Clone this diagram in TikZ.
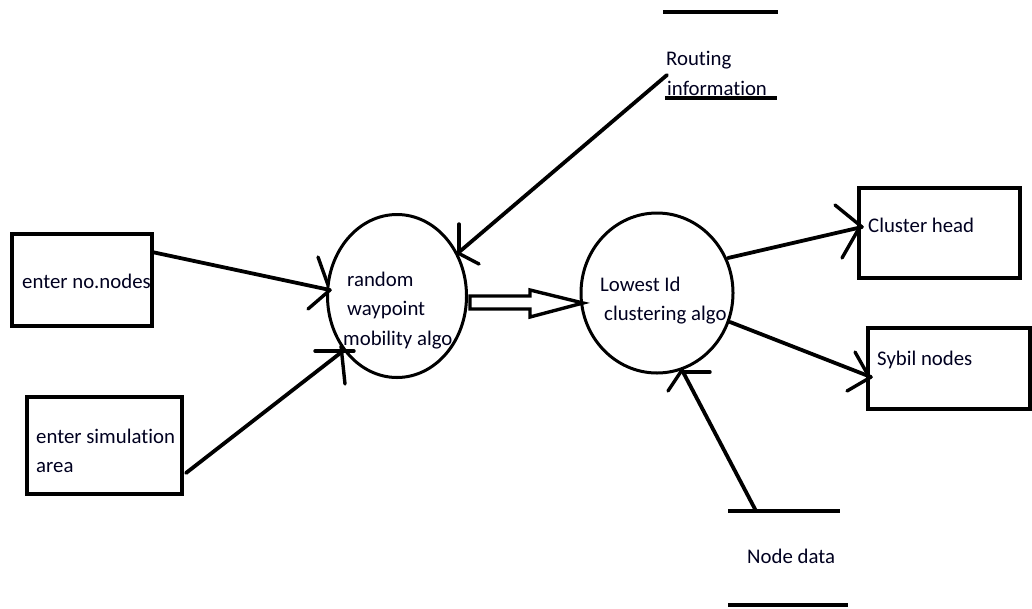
\documentclass[tikz,border=0pt]{standalone}
\usepackage{fontspec}
\setmainfont{Carlito}[Ligatures={NoCommon,NoDiscretionary}]
\tikzset{
  boxshape/.style={draw, line width=3.8pt, rectangle, inner sep=0pt},
  procshape/.style={draw, line width=3pt, ellipse, inner sep=0pt},
  lbl/.style={anchor=base west, inner sep=0pt, font=\fontsize{20.8}{29}\selectfont, text=black!88!blue},
  conn/.style={line width=3.8pt, line cap=round},
  barb/.style={line width=3.4pt, line cap=round},
  storeline/.style={line width=4pt},
}
\usetikzlibrary{shapes.geometric}
\begin{document}
\begin{tikzpicture}[x=1pt,y=-1pt]
\useasboundingbox (0,0) rectangle (1032,608);

% input boxes
\node[boxshape, minimum width=140pt, minimum height=92pt] (nodesbox) at (82,280) {};
\node[boxshape, minimum width=155pt, minimum height=97pt] (areabox) at (104.5,445.5) {};
% output boxes
\node[boxshape, minimum width=161pt, minimum height=90pt] (headbox) at (939.5,233) {};
\node[boxshape, minimum width=162pt, minimum height=81pt] (sybilbox) at (949,368.5) {};

% processes
\node[procshape, minimum width=139pt, minimum height=163pt] (rwp) at (397,296) {};
\node[procshape, minimum width=152pt, minimum height=160pt] (lid) at (657,293) {};

% labels
\node[lbl] (t-nodes) at (22,288) {enter no.nodes};
\node[lbl] (t-area1) at (36,443) {enter simulation};
\node[lbl] (t-area2) at (36,472) {area};
\node[lbl] (t-rwp1) at (347,286) {random};
\node[lbl] (t-rwp2) at (347,315) {waypoint};
\node[lbl] (t-rwp3) at (343,345) {mobility algo};
\node[lbl] (t-lid1) at (600,291) {Lowest Id};
\node[lbl] (t-lid2) at (604,320) {clustering algo};
\node[lbl] (t-head) at (868,232) {Cluster head};
\node[lbl] (t-sybil) at (877,365) {Sybil nodes};
\node[lbl] (t-rout1) at (666,65) {Routing};
\node[lbl] (t-rout2) at (667,95) {information};
\node[lbl] (t-ndata) at (747,563) {Node data};

% data stores
\coordinate (rs-a) at (663,12);  \coordinate (rs-b) at (778,12);
\coordinate (rs-c) at (665,98);  \coordinate (rs-d) at (777,98);
\coordinate (nd-a) at (728,511); \coordinate (nd-b) at (840,511);
\coordinate (nd-c) at (728,605); \coordinate (nd-d) at (848,605);
\draw[storeline] (rs-a) -- (rs-b);
\draw[storeline] (rs-c) -- (rs-d);
\draw[storeline] (nd-a) -- (nd-b);
\draw[storeline] (nd-c) -- (nd-d);

% connector ends
\coordinate (s1) at (152,252);  \coordinate (e1) at (330,290);
\coordinate (s2) at (186,473);  \coordinate (e2) at (343,351);
\coordinate (s3) at (667,75);   \coordinate (e3) at (458,253);
\coordinate (s4) at (728,258);  \coordinate (e4) at (862,227);
\coordinate (s5) at (730,322);  \coordinate (e5) at (871,377);
\coordinate (s6) at (756,511);  \coordinate (e6) at (682,370);

% connectors
\draw[conn] (s1) -- (e1);
\draw[conn] (s2) -- (e2);
\draw[conn] (s3) -- (e3);
\draw[conn] (s4) -- (e4);
\draw[conn] (s5) -- (e5);
\draw[conn] (s6) -- (e6);

% hand-drawn arrow barbs
\draw[barb] (e1) ++(-12,-33) -- ++(10,28);
\draw[barb] (e1) ++(-22,19) -- (e1);
\draw[barb] (e2) ++(-28,0) -- ++(39,0);
\draw[barb] (e2) ++(-2,-5) -- ++(4,38);
\draw[barb] (e3) ++(1,-29) -- ++(0,29);
\draw[barb] (e3) -- ++(21,11);
\draw[barb] (e4) ++(-27,-22) -- (e4);
\draw[barb] (e4) ++(-20,31) -- ++(16,-28);
\draw[barb] (e5) ++(-16,-25) -- ++(13,23);
\draw[barb] (e5) ++(-24,14) -- (e5);
\draw[barb] (e6) ++(1,2) -- ++(27,0);
\draw[barb] (e6) -- ++(-14,21);

% hollow flow arrow between the two processes
\coordinate (f0) at (470,296);
\coordinate (f1) at (583,303);
\draw[line width=3.4pt, line join=miter]
  (f0) -- (530,296) -- (530,290) -- (f1) -- (530,317) -- (530,309) -- (470,309) -- cycle;
\end{tikzpicture}
\end{document}
